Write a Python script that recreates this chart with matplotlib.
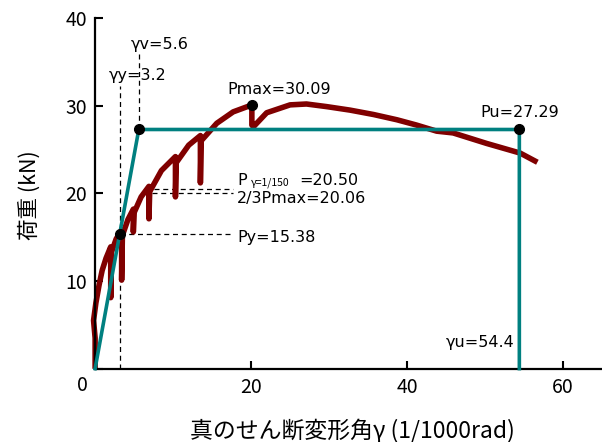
import matplotlib
matplotlib.use("Agg")
import matplotlib.pyplot as plt

plt.rcParams['font.family'] = ['Noto Sans CJK JP', 'DejaVu Sans']

# envelope curve (gamma in 1/1000 rad, load in kN), spikes = unloading
gamma = [0.0, 0.0, -0.2, 0.1, 0.5, 0.9, 1.4, 2.0, 2.0, 2.1, 2.7, 3.4, 3.4, 3.5,
         4.2, 4.9, 4.9, 5.0, 5.9, 6.9, 6.9, 7.0, 8.5, 10.3, 10.3, 10.4, 12.0,
         13.5, 13.5, 13.6, 15.6, 17.7, 20.1, 20.1, 20.3, 22.0, 25.0, 27.1,
         29.7, 32.7, 35.7, 38.7, 41.2, 43.8, 45.9, 50.2, 54.5, 56.4]
load = [0.3, 3.5, 5.5, 7.5, 9.5, 11.2, 12.6, 13.9, 8.1, 13.3, 14.8, 15.8, 10.1,
        15.2, 17.0, 18.2, 15.6, 17.8, 19.6, 20.8, 17.1, 20.2, 22.6, 24.2, 19.6,
        23.5, 25.5, 26.6, 21.2, 26.0, 28.0, 29.3, 30.09, 27.8, 27.6, 29.2, 30.1,
        30.2, 29.9, 29.5, 29.0, 28.4, 27.8, 27.1, 26.9, 25.7, 24.6, 23.7]

# bilinear model
gy, gv, gu = 3.2, 5.6, 54.4
Py, Pu, Pmax = 15.38, 27.29, 30.09
gmax = 20.1
P150, P23 = 20.50, 20.06
bi_x = [0, gv, gu, gu]
bi_y = [0, Pu, Pu, 0]

fig = plt.figure(figsize=(6.02, 4.42), dpi=100)
ax = fig.add_axes([0.158, 0.166, 0.842, 0.793])

ax.plot(gamma, load, color='#800000', lw=4, solid_joinstyle='round', zorder=2,
        clip_on=False)
ax.plot(bi_x, bi_y, color='#008080', lw=2.6, zorder=3, clip_on=False)
ax.plot([gy, gv, gmax, gu], [Py, Pu, Pmax, Pu], 'o', color='black', ms=7, zorder=4)

dash = dict(color='black', lw=0.9, ls=(0, (4, 3)), zorder=1)
ax.plot([gy, gy], [0, 32.2], **dash)
ax.plot([gv, gv], [Pu, 36.2], **dash)
ax.plot([gy, 17.7], [Py, Py], **dash)
ax.plot([7.6, 17.7], [20.55, 20.55], **dash)
ax.plot([7.3, 17.7], [20.0, 20.0], **dash)

lat = ['DejaVu Sans', 'Noto Sans CJK JP']
fs = 11.5
ax.text(4.6, 37.0, 'γv=5.6', fontsize=fs, va='center', family=lat)
ax.text(1.7, 33.4, 'γy=3.2', fontsize=fs, va='center', family=lat)
ax.text(17.0, 31.8, 'Pmax=30.09', fontsize=fs, va='center', family=lat)
ax.text(49.4, 29.2, 'Pu=27.29', fontsize=fs, va='center', family=lat)
ax.annotate('P', xy=(18.2, 21.5), fontsize=fs, va='center', family=lat)
ax.annotate('γ=1/150', xy=(18.2, 21.5), xytext=(10, -2), textcoords='offset points',
            fontsize=7.5, va='center')
ax.annotate('=20.50', xy=(18.2, 21.5), xytext=(45, 0), textcoords='offset points',
            fontsize=fs, va='center', family=lat)
ax.text(18.2, 19.4, '2/3Pmax=20.06', fontsize=fs, va='center', family=lat)
ax.text(18.2, 15.0, 'Py=15.38', fontsize=fs, va='center', family=lat)
ax.text(53.8, 3.0, 'γu=54.4', fontsize=fs, va='center', ha='right', family=lat)

ax.set_xlim(0, 65)
ax.set_ylim(0, 40)
ax.set_xticks([0, 20, 40, 60])
ax.set_xticklabels(['', '20', '40', '60'])
ax.set_yticks([0, 10, 20, 30, 40])
ax.set_yticklabels(['', '10', '20', '30', '40'])
ax.annotate('0', xy=(0, 0), xycoords='axes fraction', xytext=(-9, -12),
            textcoords='offset points', ha='center', va='center', fontsize=14)
ax.tick_params(direction='in', length=6, width=1.5, labelsize=14, pad=6)
for s in ['top', 'right']:
    ax.spines[s].set_visible(False)
for s in ['left', 'bottom']:
    ax.spines[s].set_linewidth(1.6)

ax.set_xlabel('真のせん断変形角γ (1/1000rad)', fontsize=16.5, va='center')
ax.set_ylabel('荷重 (kN)', fontsize=15.5, va='center')
ax.xaxis.set_label_coords(0.507, -0.176)
ax.yaxis.set_label_coords(-0.13, 0.496)

fig.savefig('out.png', dpi=100)
